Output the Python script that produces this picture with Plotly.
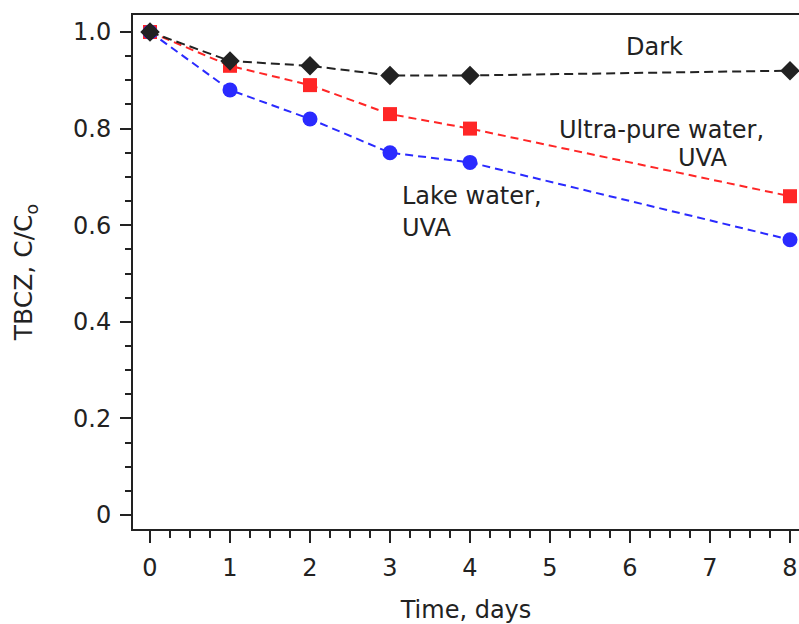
import plotly.graph_objects as go

days = [0, 1, 2, 3, 4, 8]
dark = [1.00, 0.94, 0.93, 0.91, 0.91, 0.92]
ultra_pure_uva = [1.00, 0.93, 0.89, 0.83, 0.80, 0.66]
lake_uva = [1.00, 0.88, 0.82, 0.75, 0.73, 0.57]

x_ticks = [0, 1, 2, 3, 4, 5, 6, 7, 8]
x_ticktext = ["0", "1", "2", "3", "4", "5", "6", "7", "8"]
y_ticks = [0, 0.2, 0.4, 0.6, 0.8, 1.0]
y_ticktext = ["0", "0.2", "0.4", "0.6", "0.8", "1.0"]

FONT = "DejaVu Sans"
INK = "#222222"
RED = "#ff2626"
BLUE = "#2a2aff"

fig = go.Figure()
fig.add_trace(go.Scatter(
    x=days, y=ultra_pure_uva, mode="lines+markers", name="Ultra-pure water, UVA",
    line=dict(color=RED, width=2, dash="8px,5px"),
    marker=dict(symbol="square", size=14, color=RED),
    cliponaxis=False,
))
fig.add_trace(go.Scatter(
    x=days, y=lake_uva, mode="lines+markers", name="Lake water, UVA",
    line=dict(color=BLUE, width=2, dash="8px,5px"),
    marker=dict(symbol="circle", size=15, color=BLUE),
    cliponaxis=False,
))
fig.add_trace(go.Scatter(
    x=days, y=dark, mode="lines+markers", name="Dark",
    line=dict(color=INK, width=2, dash="9px,5px"),
    marker=dict(symbol="diamond", size=15, color=INK),
    cliponaxis=False,
))

ann_font = dict(family=FONT, size=24, color=INK)
fig.add_annotation(x=6.31, y=0.969, text="Dark", showarrow=False, font=ann_font,
                   xanchor="center", yanchor="middle")
fig.add_annotation(x=6.39, y=0.797, text="Ultra-pure water,", showarrow=False, font=ann_font,
                   xanchor="center", yanchor="middle")
fig.add_annotation(x=6.9, y=0.739, text="UVA", showarrow=False, font=ann_font,
                   xanchor="center", yanchor="middle")
fig.add_annotation(x=3.125, y=0.660, text="Lake water,", showarrow=False, font=ann_font,
                   xanchor="left", yanchor="middle")
fig.add_annotation(x=3.125, y=0.594, text="UVA", showarrow=False, font=ann_font,
                   xanchor="left", yanchor="middle")

fig.update_layout(
    width=799, height=624,
    margin=dict(l=133, r=0, t=15, b=95, autoexpand=False),
    paper_bgcolor="white", plot_bgcolor="white",
    showlegend=False,
    font=dict(family=FONT, size=22, color=INK),
)
fig.update_xaxes(
    range=[-0.2125, 8.1125],
    automargin=False,
    tickvals=x_ticks, ticktext=x_ticktext,
    ticks="outside", ticklen=12, tickwidth=1.5, tickcolor=INK,
    minor=dict(dtick=0.25, tick0=0, ticks="outside", ticklen=7, tickwidth=1.5, tickcolor=INK),
    showline=True, linewidth=2, linecolor=INK, mirror=True,
    showgrid=False, zeroline=False,
    tickfont=dict(family=FONT, size=24, color=INK),
    ticklabelstandoff=4,
    title=dict(text="Time, days", font=dict(family=FONT, size=24, color=INK), standoff=20),
)
fig.update_yaxes(
    range=[-0.029, 1.0352],
    automargin=False,
    tickvals=y_ticks, ticktext=y_ticktext,
    ticks="outside", ticklen=11, tickwidth=1.5, tickcolor=INK,
    minor=dict(dtick=0.05, tick0=0, ticks="outside", ticklen=6, tickwidth=1.5, tickcolor=INK),
    showline=True, linewidth=2, linecolor=INK, mirror=False,
    showgrid=False, zeroline=False,
    tickfont=dict(family=FONT, size=24, color=INK),
    ticklabelstandoff=4,
    title=dict(text="TBCZ, C/C<sub>o</sub>", font=dict(family=FONT, size=25, color=INK), standoff=33),
)

fig.write_html(
    "out.html",
    config={"displayModeBar": False},
    post_script="document.body.style.margin='0';document.body.style.overflow='hidden';",
)
